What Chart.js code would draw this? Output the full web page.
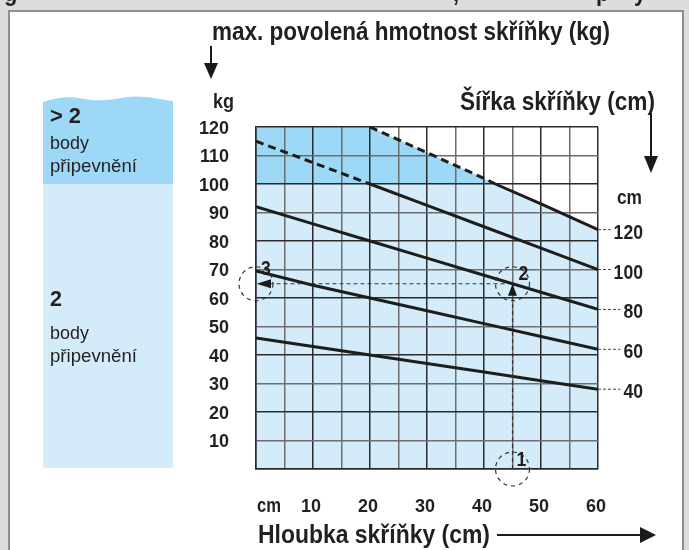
<!DOCTYPE html>
<html>
<head>
<meta charset="utf-8">
<script src="https://cdn.jsdelivr.net/npm/chart.js@4.4.1/dist/chart.umd.min.js"></script>
<style>
  html, body { margin: 0; padding: 0; width: 689px; height: 550px; overflow: hidden; background: #dcdddf; }
  #frame { position: absolute; left: 8px; top: 10px; width: 672px; height: 560px; border: 2px solid #8e8e90; background: #ffffff; }
  #wrap { position: absolute; left: 0; top: 0; width: 689px; height: 550px; }
</style>
</head>
<body>
<div id="frame"></div>
<div id="wrap"><canvas id="c" width="689" height="550"></canvas></div>
<script>
// Cabinet depth (cm) along the bottom axis
const depthCm = [0, 10, 20, 30, 40, 50, 60];

// Max. allowed cabinet weight (kg) for each cabinet width
const kgW40  = [46, 43, 40, 37, 34, 31, 28];
const kgW60  = [69.5, 64.5, 60, 55.5, 51, 46.5, 42];
const kgW80  = [92, 86, 80, 74, 68, 62, 56];
const kgW100 = [115, 107.5, 100, 92.5, 85, 77.5, 70];
const depthW120 = [20, 30, 40, 42, 50, 60];
const kgW120    = [120, 111, 102, 100, 93, 84];

// Cabinet widths (cm) labelled at the right end of each line
const widthLabels = ['40', '60', '80', '100', '120'];
// Depth up to which each line is dashed (0 = solid everywhere)
const dashedUntilCm = [0, 0, 0, 20, 42];

// Above this weight more than two mounting points are needed
const twoPointLimitKg = 100;

// Worked example: depth 45 cm, width 80 cm -> 65 kg
const exampleDepthCm = 45;
const exampleKg = 65;

// Axis ticks
const depthTickLabels = ['10', '20', '30', '40', '50', '60'];
const kgTickLabels = ['10', '20', '30', '40', '50', '60', '70', '80', '90', '100', '110', '120'];

const FAM = "'Liberation Sans', Arial, Helvetica, sans-serif";
const NARROW = 0.84;
const INK = '#231f20';
const LINE = '#1d1d1b';
const LIGHT = '#d4ecfa';
const DARK = '#9dd9f6';

const toPts = (xs, ys) => xs.map((x, i) => ({ x: x, y: ys[i] }));

// Region boundary under the 120 cm line, limited by the top of the chart
const bandTop = [{ x: 0, y: 120 }].concat(toPts(depthW120, kgW120));
const darkBand = bandTop;
const lightBand = bandTop.map(p => ({ x: p.x, y: Math.min(p.y, twoPointLimitKg) }));

const seriesKg = [kgW40, kgW60, kgW80, kgW100];
const lineData = seriesKg.map(v => toPts(depthCm, v)).concat([toPts(depthW120, kgW120)]);

const bandDataset = (data, color) => ({
  data: data, fill: 'origin', backgroundColor: color,
  borderColor: 'transparent', borderWidth: 0, pointRadius: 0, tension: 0
});

const lineDatasets = lineData.map((d, i) => ({
  label: widthLabels[i] + ' cm',
  data: d, fill: false, borderColor: LINE, borderWidth: 3, pointRadius: 0, tension: 0,
  borderCapStyle: 'butt',
  segment: {
    borderDash: ctx => (ctx.p1.parsed.x <= dashedUntilCm[i] ? [8, 5] : undefined)
  }
}));

// Draws condensed text: either squeezed to a given width or by the default narrow factor
function text(ctx, s, x, y, size, weight, align, fitWidth) {
  ctx.save();
  ctx.font = weight + ' ' + size + 'px ' + FAM;
  ctx.textBaseline = 'alphabetic';
  ctx.fillStyle = INK;
  const sx = fitWidth ? fitWidth / ctx.measureText(s).width : NARROW;
  ctx.translate(x, y);
  ctx.scale(sx, 1);
  ctx.textAlign = align;
  ctx.fillText(s, 0, 0);
  ctx.restore();
}

function tri(ctx, pts) {
  ctx.beginPath();
  ctx.moveTo(pts[0][0], pts[0][1]);
  ctx.lineTo(pts[1][0], pts[1][1]);
  ctx.lineTo(pts[2][0], pts[2][1]);
  ctx.closePath();
  ctx.fill();
}

const decorations = {
  id: 'decorations',
  afterDraw(chart) {
    const ctx = chart.ctx;
    const xs = chart.scales.x, ys = chart.scales.y;

    // descenders of the caption line above the frame
    [['g', 4], [',', 453], ['p', 596], ['y', 634]].forEach(c => text(ctx, c[0], c[1], 1, 26, 'bold', 'left'));

    // left legend panel
    ctx.save();
    ctx.fillStyle = LIGHT;
    ctx.fillRect(43, 184, 130, 284);
    ctx.fillStyle = DARK;
    ctx.beginPath();
    ctx.moveTo(43, 184);
    ctx.lineTo(43, 102);
    ctx.bezierCurveTo(58, 97, 70, 96, 85, 99);
    ctx.bezierCurveTo(100, 102, 115, 99, 128, 97);
    ctx.bezierCurveTo(145, 95, 158, 99, 173, 101);
    ctx.lineTo(173, 184);
    ctx.closePath();
    ctx.fill();
    ctx.restore();
    text(ctx, '> 2', 50, 123, 22, 'bold', 'left', 31);
    text(ctx, 'body', 50, 149, 19, 'normal', 'left', 39);
    text(ctx, 'připevnění', 50, 172, 19, 'normal', 'left', 87);
    text(ctx, '2', 50, 306, 22, 'bold', 'left', 12);
    text(ctx, 'body', 50, 339, 19, 'normal', 'left', 39);
    text(ctx, 'připevnění', 50, 362, 19, 'normal', 'left', 87);

    // axis titles
    text(ctx, 'max. povolená hmotnost skříňky (kg)', 212, 40, 26, 'bold', 'left', 398);
    text(ctx, 'kg', 213, 108, 20, 'bold', 'left', 21);
    text(ctx, 'Šířka skříňky (cm)', 460, 110, 26, 'bold', 'left', 195);
    text(ctx, 'Hloubka skříňky (cm)', 258, 543, 26, 'bold', 'left', 232);
    text(ctx, 'cm', xs.getPixelForValue(0) + 1, 512, 20, 'bold', 'left', 24);
    text(ctx, 'cm', 642, 204, 20, 'bold', 'right', 25);

    // arrows
    ctx.save();
    ctx.strokeStyle = '#1a1a1a';
    ctx.fillStyle = '#1a1a1a';
    ctx.lineWidth = 2;
    ctx.beginPath();
    ctx.moveTo(211, 46); ctx.lineTo(211, 66);
    ctx.moveTo(651, 113); ctx.lineTo(651, 158);
    ctx.moveTo(497, 535); ctx.lineTo(642, 535);
    ctx.stroke();
    tri(ctx, [[204, 63], [218, 63], [211, 79]]);
    tri(ctx, [[644, 156], [658, 156], [651, 173]]);
    tri(ctx, [[640, 527], [640, 543], [656, 535]]);
    ctx.restore();

    // width labels with leaders
    const right = xs.getPixelForValue(60);
    lineData.forEach((d, i) => {
      const yEnd = ys.getPixelForValue(d[d.length - 1].y);
      const lbl = widthLabels[i];
      const w = lbl.length * 9.8;
      ctx.save();
      ctx.strokeStyle = '#444';
      ctx.lineWidth = 1;
      ctx.setLineDash([3, 2]);
      ctx.beginPath();
      ctx.moveTo(right, yEnd);
      ctx.lineTo(643 - w - 3, yEnd);
      ctx.stroke();
      ctx.restore();
      text(ctx, lbl, 643, yEnd + 9, 20, 'bold', 'right', w);
    });

    // worked example
    const ex = xs.getPixelForValue(exampleDepthCm);
    const ey = ys.getPixelForValue(exampleKg);
    const x0 = xs.getPixelForValue(0);
    const y0 = ys.getPixelForValue(0);
    ctx.save();
    ctx.strokeStyle = '#333';
    ctx.fillStyle = '#1a1a1a';
    ctx.lineWidth = 1.2;
    ctx.setLineDash([4, 3]);
    ctx.beginPath();
    ctx.moveTo(ex, y0); ctx.lineTo(ex, ey + 12);
    ctx.moveTo(ex - 8, ey); ctx.lineTo(x0 + 15, ey);
    ctx.stroke();
    ctx.setLineDash([4, 4]);
    [[ex, y0], [ex, ey], [x0, ey]].forEach(c => {
      ctx.beginPath();
      ctx.arc(c[0], c[1], 17, 0, Math.PI * 2);
      ctx.stroke();
    });
    ctx.setLineDash([]);
    tri(ctx, [[ex - 4.5, ey + 12], [ex + 4.5, ey + 12], [ex, ey]]);
    tri(ctx, [[x0 + 15, ey - 4.5], [x0 + 15, ey + 4.5], [x0 + 0.5, ey]]);
    ctx.restore();
    text(ctx, '1', ex + 9, y0 - 3, 21, 'bold', 'center');
    text(ctx, '2', ex + 11, ey - 4, 21, 'bold', 'center');
    text(ctx, '3', x0 + 10, ey - 9, 21, 'bold', 'center');
  }
};

const tickFont = { family: FAM, size: 18, weight: 'bold' };

new Chart(document.getElementById('c'), {
  type: 'line',
  data: {
    datasets: [bandDataset(lightBand, LIGHT), bandDataset(darkBand, DARK)].concat(lineDatasets)
  },
  options: {
    responsive: false,
    animation: false,
    devicePixelRatio: 1,
    layout: { padding: { left: 200, right: 91, top: 127, bottom: 31 } },
    plugins: {
      legend: { display: false },
      tooltip: { enabled: false },
      filler: { drawTime: 'beforeDraw' }
    },
    scales: {
      x: {
        type: 'linear', min: 0, max: 60,
        afterFit: s => { s.height = 50; },
        ticks: {
          stepSize: 5, autoSkip: false, maxRotation: 0, padding: 27, labelOffset: -2, color: INK, font: tickFont,
          callback: v => (depthTickLabels.includes(String(v)) ? String(v) : '')
        },
        grid: {
          drawTicks: false, lineWidth: 1.5,
          color: c => (c.tick && c.tick.value % 10 === 0 ? '#2b2b2b' : '#6d6d6d')
        },
        border: { color: '#2b2b2b', width: 1.5 }
      },
      y: {
        type: 'linear', min: 0, max: 120,
        afterFit: s => { s.width = 56; },
        ticks: {
          stepSize: 10, autoSkip: false, padding: 27, labelOffset: 2, color: INK, font: tickFont,
          callback: v => (kgTickLabels.includes(String(v)) ? String(v) : '')
        },
        grid: {
          drawTicks: false, lineWidth: 1.5,
          color: c => (c.tick && c.tick.value % 20 === 0 ? '#2b2b2b' : '#6d6d6d')
        },
        border: { color: '#2b2b2b', width: 1.5 }
      }
    }
  },
  plugins: [decorations]
});
</script>
</body>
</html>
